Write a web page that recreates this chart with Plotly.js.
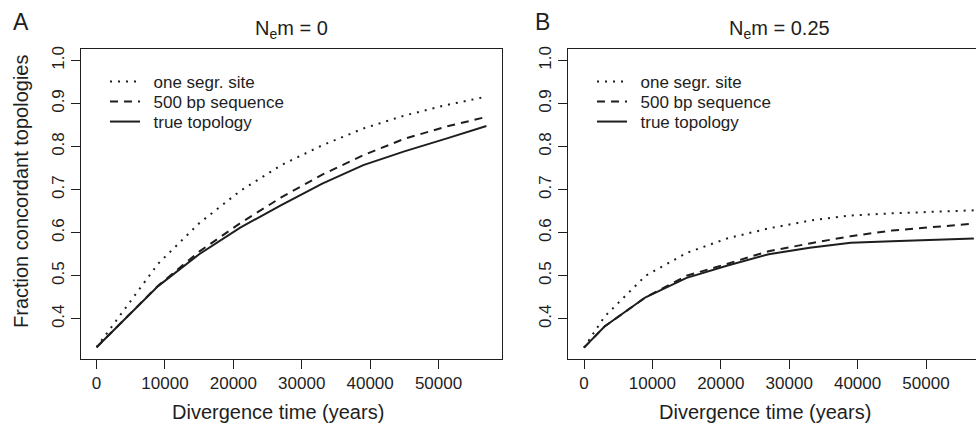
<!DOCTYPE html>
<html>
<head>
<meta charset="utf-8">
<script src="https://cdn.plot.ly/plotly-3.0.1.min.js"></script>
<style>
html,body{margin:0;padding:0;background:#fff;overflow:hidden;}
#chart{width:976px;height:425px;}
</style>
</head>
<body>
<div id="chart"></div>
<script>
// ---- data ----
const years = [0, 3000, 9000, 15000, 21000, 27000, 33000, 39000, 45000, 51000, 57000];

const seriesNames = ["one segr. site", "500 bp sequence", "true topology"];

// Panel A: Nem = 0
const A_oneSite = [0.334, 0.398, 0.528, 0.622, 0.697, 0.757, 0.803, 0.842, 0.872, 0.896, 0.916];
const A_seq500  = [0.334, 0.381, 0.477, 0.556, 0.622, 0.682, 0.735, 0.780, 0.818, 0.846, 0.869];
const A_true    = [0.334, 0.381, 0.476, 0.550, 0.612, 0.664, 0.714, 0.757, 0.789, 0.818, 0.848];

// Panel B: Nem = 0.25
const B_oneSite = [0.333, 0.405, 0.500, 0.553, 0.587, 0.610, 0.628, 0.640, 0.645, 0.649, 0.652];
const B_seq500  = [0.333, 0.382, 0.450, 0.500, 0.528, 0.557, 0.575, 0.592, 0.605, 0.613, 0.621];
const B_true    = [0.333, 0.382, 0.450, 0.495, 0.524, 0.550, 0.565, 0.5765, 0.580, 0.583, 0.5865];

const xTickVals = [0, 10000, 20000, 30000, 40000, 50000];
const yTickVals = [0.4, 0.5, 0.6, 0.7, 0.8, 0.9, 1.0];

const panelTitles = ["N<sub>e</sub>m = 0", "N<sub>e</sub>m = 0.25"];
const panelLetters = ["A", "B"];
const xTitle = "Divergence time (years)";
const yTitle = "Fraction concordant topologies";

// ---- styling ----
const W = 976, H = 425;
const FONT = "Liberation Sans, Arial, Helvetica, sans-serif";
const INK = "#1e1e1e";
const dashes = ["2px,6px", "8px,6px", "solid"];
const px = v => v / W;
const py = v => 1 - v / H;

// one legend box per series so the rows can sit R-style, 20 px apart
const legendIds = [["legend", "legend2", "legend3"], ["legend4", "legend5", "legend6"]];
const legendLeft = [105, 592];
const legendTop0 = 64, legendStep = 20;
const keyGap = "\u2002"; // widens the gap between key and label like R's legend

function mk(xs, ys, i, panel) {
  const sfx = panel === 0 ? "" : "2";
  return {
    type: "scatter", mode: "lines", x: xs, y: ys,
    name: keyGap + seriesNames[i], xaxis: "x" + sfx, yaxis: "y" + sfx,
    legend: legendIds[panel][i],
    line: {color: INK, width: 2, dash: dashes[i]},
    hoverinfo: "skip"
  };
}

const traces = [
  mk(years, A_oneSite, 0, 0),
  mk(years, A_seq500, 1, 0),
  mk(years, A_true, 2, 0),
  mk(years, B_oneSite, 0, 1),
  mk(years, B_seq500, 1, 1),
  mk(years, B_true, 2, 1)
];

const yLo = 1/3 - (1 - 1/3) * 0.04, yHi = 1 + (1 - 1/3) * 0.04;

function xAxis(domain, range, anchor) {
  return {
    domain: domain, range: range, anchor: anchor,
    tickmode: "array", tickvals: xTickVals, ticktext: xTickVals.map(String),
    ticks: "outside", ticklen: 9, tickwidth: 1, tickcolor: INK,
    showline: true, mirror: true, linecolor: INK, linewidth: 1,
    showgrid: false, zeroline: false,
    tickfont: {family: FONT, size: 17, color: INK}
  };
}
function yAxis(anchor, mirror) {
  return {
    domain: [py(359), py(49)], range: [yLo, yHi], anchor: anchor,
    tickmode: "array", tickvals: yTickVals, ticktext: yTickVals.map(v => v.toFixed(1)),
    tickangle: -90,
    ticks: "outside", ticklen: 9, tickwidth: 1, tickcolor: INK,
    showline: true, mirror: mirror, linecolor: INK, linewidth: 1,
    showgrid: false, zeroline: false,
    tickfont: {family: FONT, size: 17, color: INK}
  };
}

const legendStyle = (x, yTop) => ({
  x: px(x), y: py(yTop), xanchor: "left", yanchor: "top",
  bgcolor: "rgba(0,0,0,0)", borderwidth: 0, itemwidth: 30,
  font: {family: FONT, size: 17, color: INK},
  itemclick: false, itemdoubleclick: false
});

const annFont = (s) => ({family: FONT, size: s, color: INK});
const annotations = [
  {text: panelLetters[0], x: px(11), y: py(22), xanchor: "left", yanchor: "middle", font: annFont(23)},
  {text: panelLetters[1], x: px(533), y: py(22), xanchor: "left", yanchor: "middle", font: annFont(23)},
  {text: panelTitles[0], x: px(291.5), y: py(30), xanchor: "center", yanchor: "middle", font: annFont(20)},
  {text: panelTitles[1], x: px(779), y: py(30), xanchor: "center", yanchor: "middle", font: annFont(20)},
  {text: xTitle, x: px(277.5), y: py(412), xanchor: "center", yanchor: "middle", font: annFont(20)},
  {text: xTitle, x: px(765), y: py(412), xanchor: "center", yanchor: "middle", font: annFont(20)},
  {text: yTitle, x: px(21), y: py(191), xanchor: "center", yanchor: "middle", textangle: -90, font: annFont(20)}
].map(a => Object.assign({xref: "paper", yref: "paper", showarrow: false}, a));

const layout = {
  width: W, height: H,
  margin: {l: 0, r: 0, t: 0, b: 0, pad: 0},
  paper_bgcolor: "#fff", plot_bgcolor: "#fff",
  font: {family: FONT, color: INK},
  showlegend: true,
  xaxis: xAxis([px(81), px(502)], [-2280, 59280], "y"),
  yaxis: yAxis("x", true),
  xaxis2: xAxis([px(568), 1], [-2340, 57310], "y2"),
  yaxis2: yAxis("x2", false),
  annotations: annotations
};
legendIds.forEach((ids, p) => ids.forEach((id, i) => {
  layout[id] = legendStyle(legendLeft[p], legendTop0 + i * legendStep);
}));

Plotly.newPlot("chart", traces, layout, {staticPlot: true, displayModeBar: false});
</script>
</body>
</html>
